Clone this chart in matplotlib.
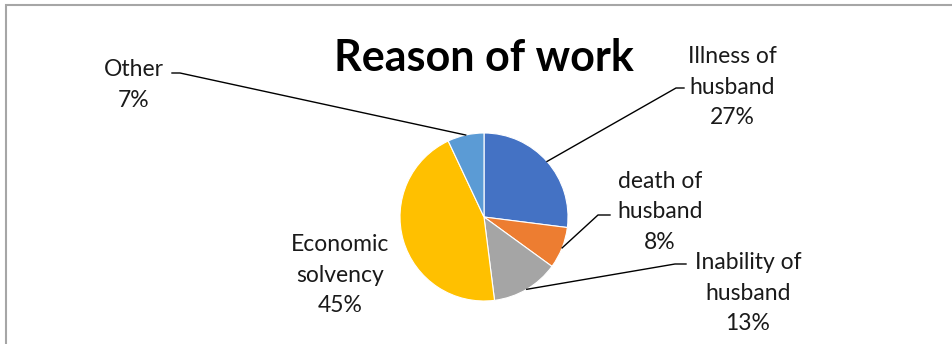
import numpy as np
import matplotlib.pyplot as plt
from matplotlib.patches import Rectangle

labels = ['Illness of\nhusband', 'death of\nhusband', 'Inability of\nhusband',
          'Economic\nsolvency', 'Other']
shares = [27, 8, 13, 45, 7]
colors = ['#4472C4', '#ED7D31', '#A5A5A5', '#FFC000', '#5B9BD5']

W, H = 952, 344
plt.rcParams['font.family'] = ['Lato', 'DejaVu Sans']

fig = plt.figure(figsize=(W / 100, H / 100), dpi=100)
ax = fig.add_axes([0, 0, 1, 1])


def px(x, y):
    # pixel coords (top-left origin) -> data coords
    return x, H - y


# chart frame
ax.add_patch(Rectangle(px(6, 360), W + 10, 355, fill=False, ec='#A6A6A6', lw=1.5))

cx, cy = px(484, 217)
r = 84
wedges, _ = ax.pie(shares, colors=colors, startangle=90, counterclock=False,
                   center=(cx, cy), radius=r, frame=True,
                   wedgeprops=dict(edgecolor='white', linewidth=0.8))
ax.set_xlim(0, W)
ax.set_ylim(0, H)
ax.set_aspect('equal')
ax.axis('off')

ax.text(*px(484, 58), 'Reason of work', ha='center', va='center',
        fontsize=31, fontweight='bold')

# label block centre and elbow of the leader line (pixel coords)
label_pos = [(732, 87), (660, 212), (748, 293), (340, 275), (134, 85)]
elbows = [[(676, 88), (684, 88)], [(598, 215), (610, 215)],
          [(675, 264), (686, 264)], None, [(180, 73), (172, 73)]]

for w, lab, s, pos, elb in zip(wedges, labels, shares, label_pos, elbows):
    ax.text(*px(*pos), f'{lab}\n{s}%', ha='center', va='center',
            fontsize=16.5, linespacing=1.55, color='#1a1a1a')
    if elb is None:
        continue
    mid = np.deg2rad((w.theta1 + w.theta2) / 2)
    x0, y0 = cx + r * np.cos(mid), cy + r * np.sin(mid)
    xs = [x0] + [px(*p)[0] for p in elb]
    ys = [y0] + [px(*p)[1] for p in elb]
    ax.plot(xs, ys, color='black', lw=1)

fig.savefig('out.png', dpi=100)
